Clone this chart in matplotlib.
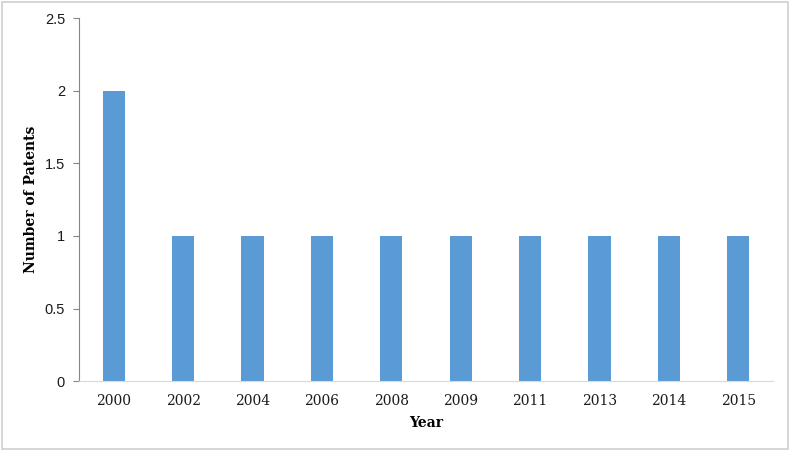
import matplotlib
matplotlib.use("Agg")
import matplotlib.pyplot as plt
from matplotlib.patches import Rectangle

years = ["2000", "2002", "2004", "2006", "2008", "2009", "2011", "2013", "2014", "2015"]
patents = [2, 1, 1, 1, 1, 1, 1, 1, 1, 1]
yticks = [0, 0.5, 1, 1.5, 2, 2.5]
ytick_labels = ["0", "0.5", "1", "1.5", "2", "2.5"]

fig = plt.figure(figsize=(7.9, 4.51), dpi=100)
ax = fig.add_axes([0.1, 0.1552, 0.8785, 0.8038])

x = list(range(len(years)))
ax.bar(x, patents, width=0.32, color="#5b9bd5")
ax.set_xlim(-0.5, len(years) - 0.5)
ax.set_ylim(0, 2.5)
ax.set_yticks(yticks)
ax.set_yticklabels(ytick_labels)
ax.set_xticks(x)
ax.set_xticklabels(years)

for s in ["top", "right"]:
    ax.spines[s].set_visible(False)
ax.spines["left"].set_color("#868686")
ax.spines["bottom"].set_color("#d9d9d9")
ax.spines["left"].set_linewidth(0.8)
ax.spines["bottom"].set_linewidth(0.8)
ax.tick_params(axis="y", length=4, color="#868686", labelsize=10.5, pad=6)
ax.tick_params(axis="x", length=0, labelsize=10, pad=9)
for lbl in ax.get_xticklabels():
    lbl.set_family("DejaVu Serif")
    lbl.set_color("#1a1a1a")
for lbl in ax.get_yticklabels():
    lbl.set_family("Liberation Sans")
    lbl.set_color("#1a1a1a")

ax.set_xlabel("Year", family="DejaVu Serif", fontweight="bold", fontsize=10, labelpad=6)
ax.set_ylabel("Number of Patents", family="DejaVu Serif", fontweight="bold", fontsize=10, labelpad=5)

fig.patches.append(Rectangle((0.002, 0.004), 0.995, 0.992, transform=fig.transFigure,
                             fill=False, edgecolor="#d0d0d0", linewidth=1.2))

fig.savefig("out.png", dpi=100)
